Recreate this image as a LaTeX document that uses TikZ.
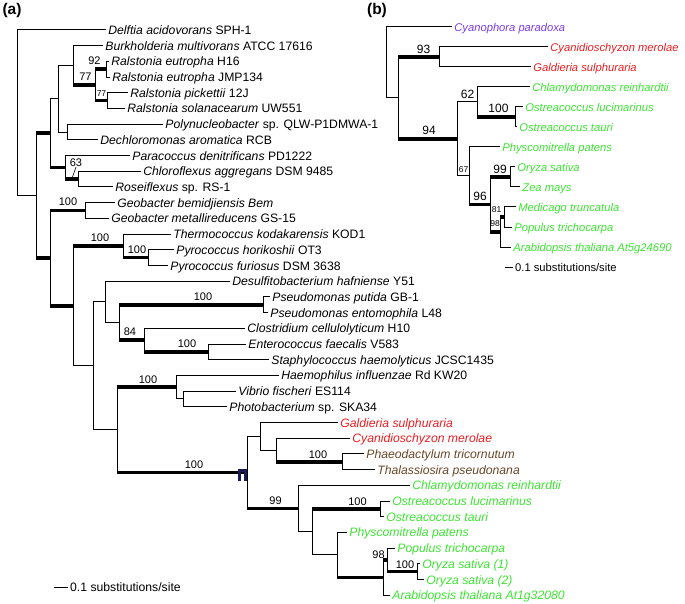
\documentclass[tikz,border=0pt]{standalone}
\usepackage{fontspec}
\setmainfont{Liberation Sans}
\usetikzlibrary{calc}
\definecolor{plastidred}{RGB}{235,30,35}
\definecolor{diatombrown}{RGB}{105,70,40}
\definecolor{plantgreen}{RGB}{60,228,50}
\definecolor{glaucpurple}{RGB}{125,60,230}
\definecolor{marknavy}{RGB}{25,25,85}
\tikzset{
  br/.style={line width=1pt},
  thickbr/.style={line width=3.6pt},
  leaf/.style={anchor=west, inner xsep=2.2pt, inner ysep=0pt, text height=9pt, text depth=0pt},
  boot/.style={inner sep=0pt, font=\fontsize{11}{12}\selectfont},
  smallboot/.style={inner sep=0pt, font=\fontsize{8.5}{9}\selectfont},
  panel/.style={inner sep=0pt, font=\fontsize{15.5}{16}\selectfont\bfseries},
}

\begin{document}
\begin{tikzpicture}[x=1pt, y=-1pt, font=\fontsize{12.2}{14}\selectfont]
\useasboundingbox (0,0) rectangle (685,604);
% (a) leaves
\foreach \i/\xe/\nm/\col/\lab in {
    0/106/delft/black/{\textit{Delftia acidovorans} SPH-1},
    1/103/burk/black/{\textit{Burkholderia multivorans} ATCC 17616},
    2/109/reuH/black/{\textit{Ralstonia eutropha} H16},
    3/110/reuJ/black/{\textit{Ralstonia eutropha} JMP134},
    4/128/rpic/black/{\textit{Ralstonia pickettii} 12J},
    5/125/rsol/black/{\textit{Ralstonia solanacearum} UW551},
    6/163/poly/black/{\textit{Polynucleobacter} sp. QLW-P1DMWA-1},
    7/98/dech/black/{\textit{Dechloromonas aromatica} RCB},
    8/130/para/black/{\textit{Paracoccus denitrificans} PD1222},
    9/141/chlx/black/{\textit{Chloroflexus aggregans} DSM 9485},
    10/113/rose/black/{\textit{Roseiflexus} sp. RS-1},
    11/115/gbem/black/{\textit{Geobacter bemidjiensis Bem}},
    12/109/gmet/black/{\textit{Geobacter metallireducens} GS-15},
    13/171/therm/black/{\textit{Thermococcus kodakarensis} KOD1},
    14/174/phor/black/{\textit{Pyrococcus horikoshii} OT3},
    15/168/pfur/black/{\textit{Pyrococcus furiosus} DSM 3638},
    16/230/desu/black/{\textit{Desulfitobacterium hafniense} Y51},
    17/270/pput/black/{\textit{Pseudomonas putida} GB-1},
    18/268/pent/black/{\textit{Pseudomonas entomophila} L48},
    19/245/clos/black/{\textit{Clostridium cellulolyticum} H10},
    20/246/ente/black/{\textit{Enterococcus faecalis} V583},
    21/269/stap/black/{\textit{Staphylococcus haemolyticus} JCSC1435},
    22/279/haem/black/{\textit{Haemophilus influenzae} Rd KW20},
    23/236/vibr/black/{\textit{Vibrio fischeri} ES114},
    24/227/phot/black/{\textit{Photobacterium} sp. SKA34},
    25/338/gsul/plastidred/{\textit{Galdieria sulphuraria}},
    26/350/cmer/plastidred/{\textit{Cyanidioschyzon merolae}},
    27/364/ptri/diatombrown/{\textit{Phaeodactylum tricornutum}},
    28/375/tpse/diatombrown/{\textit{Thalassiosira pseudonana}},
    29/410/crei/plantgreen/{\textit{Chlamydomonas reinhardtii}},
    30/390/oluc/plantgreen/{\textit{Ostreacoccus lucimarinus}},
    31/384/otau/plantgreen/{\textit{Ostreacoccus tauri}},
    32/347/ppat/plantgreen/{\textit{Physcomitrella patens}},
    33/395/ptrc/plantgreen/{\textit{Populus trichocarpa}},
    34/420/osa1/plantgreen/{\textit{Oryza sativa (1)}},
    35/424/osa2/plantgreen/{\textit{Oryza sativa (2)}},
    36/390/atha/plantgreen/{\textit{Arabidopsis thaliana At1g32080}}}{
    \node[leaf, text=\col] (\nm) at (\xe, {30+15.7*\i}) {\lab};
}
% (a) internal nodes
\foreach \nm/\xx/\yy in {root/17/112.8, n1/36/195.6, n2/50/133.05, n3/58/98.7,
    n4/73/65.3, n5/67/132.05, n6/95/84.95, n7/106/69.25, n8/107/100.65,
    n9/65/167.4, n10/78/179.15, nb/50/258.2, n11/85/210.55, nc/73/305.85,
    n12/123/245.9, n14/148/257.65, n13/93/365.8, n15/105/301.8, n19/119/322.4,
    n20/263/304.75, n21/144/340.1, n22/208/351.85, n16/117/429.8, n17/176/387.2,
    n18/183/398.95, n23/247/472.4, n24/260/436.25, n26/276/450, n27/342/461.75,
    n25/298/508.6, n28/312/531.9, n29/380/508.85, n30/337/554.95,
    n31/383/577.55, n32/387/559.9, n33/417/571.65}{
    \coordinate (\nm) at (\xx,\yy);
}
% (a) branches
\foreach \pa/\ch in {root/delft.west, root/n1, n1/n2, n1/nb, n2/n3, n2/n9,
    n3/n4, n3/n5, n4/burk.west, n4/n6, n6/n7, n6/n8, n7/reuH.west, n7/reuJ.west,
    n8/rpic.west, n8/rsol.west, n5/poly.west, n5/dech.west, n9/para.west, n9/n10,
    n10/chlx.west, n10/rose.west, nb/n11, nb/nc, n11/gbem.west, n11/gmet.west,
    nc/n12, nc/n13, n12/therm.west, n12/n14, n14/phor.west, n14/pfur.west,
    n13/n15, n13/n16, n15/desu.west, n15/n19, n19/n20, n19/n21,
    n20/pput.west, n20/pent.west, n21/clos.west, n21/n22, n22/ente.west,
    n22/stap.west, n16/n17, n16/n23, n17/haem.west, n17/n18, n18/vibr.west,
    n18/phot.west, n23/n24, n23/n25, n24/gsul.west, n24/n26, n26/cmer.west,
    n26/n27, n27/ptri.west, n27/tpse.west, n25/crei.west, n25/n28, n28/n29,
    n28/n30, n29/oluc.west, n29/otau.west, n30/ppat.west, n30/n31, n31/n32,
    n31/atha.west, n32/ptrc.west, n32/n33, n33/osa1.west, n33/osa2.west}{
    \draw[br] (\pa) |- (\ch);
}
\foreach \pa/\ch in {n1/n2, n1/nb, n2/n9, n9/n10, n4/n6, n6/n7, n6/n8, nb/n11,
    nb/nc, nc/n12, n12/n14, n19/n20, n19/n21, n21/n22, n16/n17, n16/n23,
    n23/n25, n26/n27, n28/n29, n30/n31, n31/n32, n32/n33}{
    \draw[thickbr] (\pa |- \ch) -- (\ch);
}
% (a) bootstrap values
\foreach \nm/\xx/\yy/\txt in {bs92/94.5/61/92, bs77/85.5/77/77, bs63/76/163/63,
    bsgeo/68/202/100, bstk/100/238/100, bspyr/137/249.5/100, bspse/203/297/100,
    bs84/130/332/84, bsent/187/344/100, bshae/148/379.5/100, bsplas/194/465/100,
    bs99/275.5/501/99, bsdia/318/455/100, bsost/357.5/502/100, bs98/378.5/554.5/98,
    bsory/405/565/100}{
    \node[boot] (\nm) at (\xx,\yy) {\txt};
}
\node[smallboot] (bs77s) at (101.5,94) {77};
\coordinate (lead63) at (72.5,177);
\draw[br, line width=0.6pt] (bs63.south) -- (lead63);
% marker on the plastid node
\draw[marknavy, line width=3pt] (239.5,481) -- (239.5,470.5) -- (245.5,470.5) -- (245.5,481);
\node[panel] (pa) at (12,10) {(a)};
% (a) scale bar
\coordinate (sba0) at (54,587);
\coordinate (sba1) at (68,587);
\draw[br] (sba0) -- (sba1);
\node[anchor=west, inner sep=2pt] (sbatxt) at (sba1) {0.1 substitutions/site};

\begin{scope}[font=\fontsize{11.2}{13}\selectfont]
% (b) leaves
\foreach \i/\xe/\nm/\col/\lab in {
    0/452/bcpa/glaucpurple/{Cyanophora paradoxa},
    1/548/bcme/plastidred/{Cyanidioschyzon merolae},
    2/531/bgsu/plastidred/{Galdieria sulphuraria},
    3/530/bcre/plantgreen/{Chlamydomonas reinhardtii},
    4/523/bolu/plantgreen/{Ostreacoccus lucimarinus},
    5/517/bota/plantgreen/{Ostreacoccus tauri},
    6/500/bppa/plantgreen/{Physcomitrella patens},
    7/515/bosa/plantgreen/{Oryza sativa},
    8/520/bzma/plantgreen/{Zea mays},
    9/516/bmtr/plantgreen/{Medicago truncatula},
    10/512/bptr/plantgreen/{Populus trichocarpa},
    11/511/bath/plantgreen/{Arabidopsis thaliana At5g24690}}{
    \node[leaf, text=\col] (\nm) at (\xe, {27+20*\i}) {\textit{\lab}};
}
% (b) internal nodes
\foreach \nm/\xx/\yy in {rb/386/62.5, m1/398/97.95, m2/439/57, m3/457/138.9,
    m4/477/102, m5/469/175.75, m6/515/117, m7/490/204.5, m8/510/177,
    m9/500/232, m10/504/217}{
    \coordinate (\nm) at (\xx,\yy);
}
% (b) branches
\foreach \pa/\ch in {rb/bcpa.west, rb/m1, m1/m2, m1/m3, m2/bcme.west,
    m2/bgsu.west, m3/m4, m3/m5, m4/bcre.west, m4/m6, m6/bolu.west, m6/bota.west,
    m5/bppa.west, m5/m7, m7/m8, m7/m9, m8/bosa.west, m8/bzma.west, m9/m10,
    m9/bath.west, m10/bmtr.west, m10/bptr.west}{
    \draw[br] (\pa) |- (\ch);
}
\foreach \pa/\ch in {m1/m2, m1/m3, m4/m6, m5/m7, m7/m8, m7/m9, m9/m10}{
    \draw[thickbr] (\pa |- \ch) -- (\ch);
}
% (b) bootstrap values
\foreach \nm/\xx/\yy/\txt in {bb93/423.5/49.5/93, bb94/429/130/94, bb62/467.5/94.5/62,
    bb100/498.5/108.5/100, bb96/480/196/96, bb99/500/169.5/99}{
    \node[boot, font=\fontsize{12}{13}\selectfont] (\nm) at (\xx,\yy) {\txt};
}
\foreach \nm/\xx/\yy/\txt in {bb67/463.5/169.5/67, bb81/496.5/210/81, bb98/495/223.5/98}{
    \node[smallboot] (\nm) at (\xx,\yy) {\txt};
}
\node[panel] (pb) at (377,10) {(b)};
% (b) scale bar
\coordinate (sbb0) at (505,267);
\coordinate (sbb1) at (513,267);
\draw[br] (sbb0) -- (sbb1);
\node[anchor=west, inner sep=2pt] (sbbtxt) at (sbb1) {0.1 substitutions/site};
\end{scope}
\end{tikzpicture}
\end{document}
